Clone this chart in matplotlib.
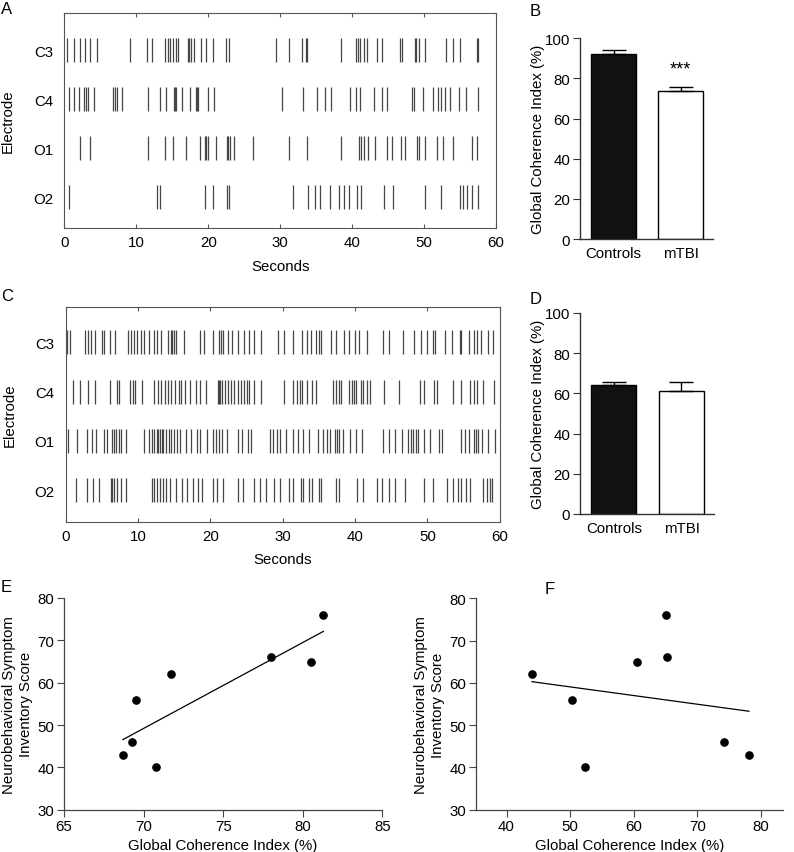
import matplotlib
matplotlib.use("Agg")
import matplotlib.pyplot as plt
import numpy as np

plt.rcParams['font.family'] = ['Liberation Sans', 'DejaVu Sans']
plt.rcParams['font.size'] = 10

FS = 10.8

# ---------------- data ----------------
electrodes = ["C3", "C4", "O1", "O2"]

spikes_A = {
    "C3": [0.32, 1.38, 2.12, 2.86, 3.59, 4.52, 9.17, 11.52, 12.12, 13.96, 14.38, 14.7, 15.07,
           15.48, 15.85, 17.14, 17.37, 17.65, 17.97, 18.99, 19.63, 20.6, 22.53, 22.9, 29.4,
           31.25, 33.1, 33.6, 33.8, 38.4, 40.6, 40.8, 41.1, 41.7, 42.1, 43.5, 44.2, 46.7, 47.0,
           48.7, 48.9, 49.3, 50.1, 53.1, 54.0, 55.0, 57.4, 57.5],
    "C4": [0.65, 1.34, 2.03, 2.72, 3.04, 3.23, 4.1, 6.82, 7.1, 7.37, 7.97, 11.57, 13.27, 14.1,
           15.25, 15.4, 15.53, 16.4, 17.5, 18.3, 18.48, 18.57, 20.0, 20.83, 30.23, 33.19, 35.14,
           36.3, 37.08, 39.68, 40.6, 41.1, 43.0, 44.2, 44.86, 48.33, 48.66, 49.9, 51.3, 52.0,
           52.36, 52.9, 53.6, 54.86, 55.8, 57.55],
    "O1": [2.21, 3.59, 11.61, 13.96, 15.07, 16.87, 18.8, 19.5, 19.72, 19.95, 21.1, 22.6, 22.8,
           23.04, 23.6, 26.2, 31.25, 33.7, 38.4, 40.9, 41.2, 41.6, 42.2, 43.2, 44.8, 45.6,
           46.76, 47.36, 48.98, 49.26, 50.2, 51.85, 52.64, 54.07, 56.6, 57.36],
    "O2": [0.69, 12.9, 13.27, 19.54, 20.6, 22.67, 22.9, 31.85, 33.94, 34.86, 35.6, 36.99, 38.15,
           38.94, 39.63, 40.74, 41.2, 44.4, 45.74, 50.2, 52.4, 55.05, 55.46, 55.9, 56.67, 57.55],
}

spikes_C = {
    "C3": [0.14, 0.55, 2.67, 3.04, 3.5, 4.06, 5.02, 5.25, 6.13, 6.87, 8.62, 9.03, 9.49, 9.91,
           10.37, 10.83, 11.57, 12.21, 12.67, 13.18, 14.15, 14.56, 14.75, 14.93, 15.25, 16.31,
           18.62, 19.17, 20.41, 21.2, 21.47, 21.7, 22.4, 23.04, 23.78, 24.65, 25.4, 26.08,
           26.96, 29.4, 30.18, 31.47, 32.67, 33.3, 33.87, 34.56, 34.98, 35.25, 36.64, 37.42,
           38.43, 39.17, 39.95, 40.5, 41.6, 43.9, 44.65, 46.68, 48.2, 49.08, 50.0, 50.83, 51.0,
           52.5, 53.36, 54.56, 54.7, 55.8, 56.4, 56.87, 57.4, 58.43, 59.1],
    "C4": [0.97, 2.03, 3.04, 4.06, 6.13, 7.05, 7.37, 8.94, 9.35, 9.63, 10.6, 12.26, 12.76,
           13.18, 13.69, 14.19, 14.6, 15.1, 15.6, 16.0, 16.5, 17.2, 18.0, 18.5, 19.4, 21.0,
           21.2, 21.4, 21.6, 22.0, 22.5, 22.9, 23.3, 23.8, 24.2, 24.6, 25.0, 25.4, 26.0, 26.96,
           30.18, 31.47, 31.94, 32.35, 32.67, 33.3, 34.06, 34.6, 36.9, 37.4, 37.74, 38.06,
           39.12, 39.63, 39.86, 40.18, 40.78, 41.15, 41.6, 42.07, 43.96, 46.08, 48.99, 49.54,
           50.92, 51.3, 53.55, 54.7, 55.85, 56.45, 56.87, 57.7, 59.17],
    "O1": [0.28, 1.57, 2.95, 3.69, 4.15, 5.35, 5.71, 6.36, 6.64, 6.96, 7.37, 7.7, 8.39, 10.78,
           11.47, 11.89, 12.26, 12.58, 12.8, 13.04, 13.27, 13.5, 13.87, 14.29, 14.56, 14.93,
           15.35, 15.85, 16.59, 17.33, 18.16, 18.62, 19.54, 20.37, 20.83, 21.24, 21.66, 22.26,
           23.78, 24.33, 25.2, 25.58, 28.3, 28.7, 29.2, 29.63, 30.46, 31.38, 32.17, 32.86,
           33.69, 34.84, 35.53, 36.08, 36.54, 37.19, 37.5, 37.83, 38.34, 39.3, 40.1, 41.0,
           43.9, 44.65, 45.5, 46.5, 47.3, 47.8, 48.06, 48.4, 48.66, 49.6, 50.37, 51.57, 52.07,
           54.65, 55.25, 55.8, 56.5, 56.7, 57.0, 57.56, 58.43, 59.36],
    "O2": [1.47, 2.9, 3.78, 4.65, 6.22, 6.45, 6.73, 7.14, 7.65, 8.39, 11.94, 12.21, 12.58,
           13.04, 13.41, 13.87, 14.47, 15.3, 16.04, 16.77, 17.56, 18.25, 18.85, 20.37, 20.92,
           21.75, 23.87, 24.5, 26.04, 26.87, 27.74, 28.85, 29.63, 30.92, 31.47, 32.49, 32.86,
           33.64, 34.06, 34.98, 35.35, 37.42, 37.83, 40.32, 41.06, 43.04, 43.73, 44.7, 45.58,
           46.87, 49.54, 50.74, 52.72, 53.55, 54.2, 54.65, 55.35, 55.9, 57.74, 58.2, 58.66,
           58.94],
}

groups = ["Controls", "mTBI"]
gci_B_mean = [92.3, 73.7]
gci_B_sem = [1.8, 1.9]
gci_D_mean = [64.2, 61.3]
gci_D_sem = [1.5, 4.3]

E_gci = [68.7, 69.3, 69.5, 70.8, 71.7, 78.0, 80.5, 81.3]
E_nsi = [43, 46, 56, 40, 62, 66, 65, 76]
F_gci = [44.0, 50.3, 52.3, 60.5, 65.0, 65.2, 74.2, 78.1]
F_nsi = [62, 56, 40, 65, 76, 66, 46, 43]

# ---------------- layout ----------------
W, H = 794, 853
fig = plt.figure(figsize=(W / 100, H / 100), dpi=100)


def px_axes(l, t, r, b):
    return fig.add_axes([l / W, 1 - b / H, (r - l) / W, (b - t) / H])


spike_col = "#454545"
frame_col = "#555555"


def raster(ax, spikes, ylim):
    rows = {e: 4 - i for i, e in enumerate(electrodes)}
    for e in electrodes:
        ax.vlines(spikes[e], rows[e] - 0.245, rows[e] + 0.245, color=spike_col, lw=0.9)
    ax.set_xlim(0, 60)
    ax.set_ylim(*ylim)
    ax.set_xticks(np.arange(0, 61, 10))
    ax.set_yticks([rows[e] for e in electrodes])
    ax.set_yticklabels(electrodes, fontsize=FS)
    ax.tick_params(axis='both', direction='in', top=True, right=True, length=3,
                   color=frame_col, labelsize=FS)
    ax.tick_params(axis='y', length=0, pad=8)
    ax.tick_params(axis='x', pad=5)
    for s in ax.spines.values():
        s.set_color(frame_col)
        s.set_linewidth(0.8)
    ax.set_xlabel("Seconds", fontsize=FS, labelpad=7)
    ax.set_ylabel("Electrode", fontsize=FS, labelpad=13)


axA = px_axes(64.3, 14.3, 496, 229)
raster(axA, spikes_A, (0.37, 4.75))
axC = px_axes(65.7, 308.3, 499.7, 522.7)
raster(axC, spikes_C, (0.36, 4.71))


def bars(ax, means, sems):
    x = np.arange(len(groups))
    ax.bar(x, means, width=0.67, color=["#111111", "white"], edgecolor="black", lw=1.0,
           zorder=2)
    ax.errorbar(x, means, yerr=[np.zeros(len(sems)), sems], fmt='none', ecolor='black',
                elinewidth=1.0, capsize=8.5, capthick=1.0, zorder=3)
    ax.set_xlim(-0.5, 1.485)
    ax.set_ylim(0, 100)
    ax.set_yticks(np.arange(0, 101, 20))
    ax.set_xticks(x)
    ax.set_xticklabels(groups)
    for side in ("top", "right"):
        ax.spines[side].set_visible(False)
    for side in ("left", "bottom"):
        ax.spines[side].set_color("#333333")
        ax.spines[side].set_linewidth(1.0)
    ax.tick_params(axis='y', direction='out', length=5, color="#333333", labelsize=FS, pad=2)
    ax.tick_params(axis='x', length=0, labelsize=FS, pad=5)
    ax.set_ylabel("Global Coherence Index (%)", fontsize=FS, labelpad=0)


axB = px_axes(580, 39.3, 713, 240)
bars(axB, gci_B_mean, gci_B_sem)
axB.text(1, 84.5, "***", ha='center', va='center', fontsize=13)

axD = px_axes(580, 314, 714.3, 515)
bars(axD, gci_D_mean, gci_D_sem)


def scatter(ax, xs, ys, xlim, xticks):
    ax.plot(xs, ys, 'o', color='black', ms=5.2, zorder=3)
    k, b = np.polyfit(xs, ys, 1)
    xx = np.array([min(xs), max(xs)])
    ax.plot(xx, k * xx + b, color='black', lw=0.9)
    ax.set_xlim(*xlim)
    ax.set_ylim(30, 80)
    ax.set_xticks(xticks)
    ax.set_yticks(np.arange(30, 81, 10))
    for side in ("top", "right"):
        ax.spines[side].set_visible(False)
    for side in ("left", "bottom"):
        ax.spines[side].set_color("#444444")
        ax.spines[side].set_linewidth(0.9)
    ax.tick_params(direction='out', length=5, color="#444444", labelsize=FS, pad=2)
    ax.set_xlabel("Global Coherence Index (%)", fontsize=FS, labelpad=3.5)
    ax.set_ylabel("Neurobehavioral Symptom\nInventory Score", fontsize=FS, labelpad=3,
                  linespacing=1.3)


axE = px_axes(64, 599, 382.3, 810.7)
scatter(axE, E_gci, E_nsi, (65, 85), np.arange(65, 86, 5))
axF = px_axes(476, 599.3, 783.3, 810.7)
scatter(axF, F_gci, F_nsi, (35.2, 83.5), np.arange(40, 81, 10))

# panel letters
for lab, x, y in [("A", 1, 9), ("B", 530, 12), ("C", 1, 297), ("D", 530, 300),
                  ("E", 1, 588), ("F", 545, 589)]:
    fig.text(x / W, 1 - y / H, lab, fontsize=12, ha='left', va='center')

fig.savefig("out.png", dpi=100)
